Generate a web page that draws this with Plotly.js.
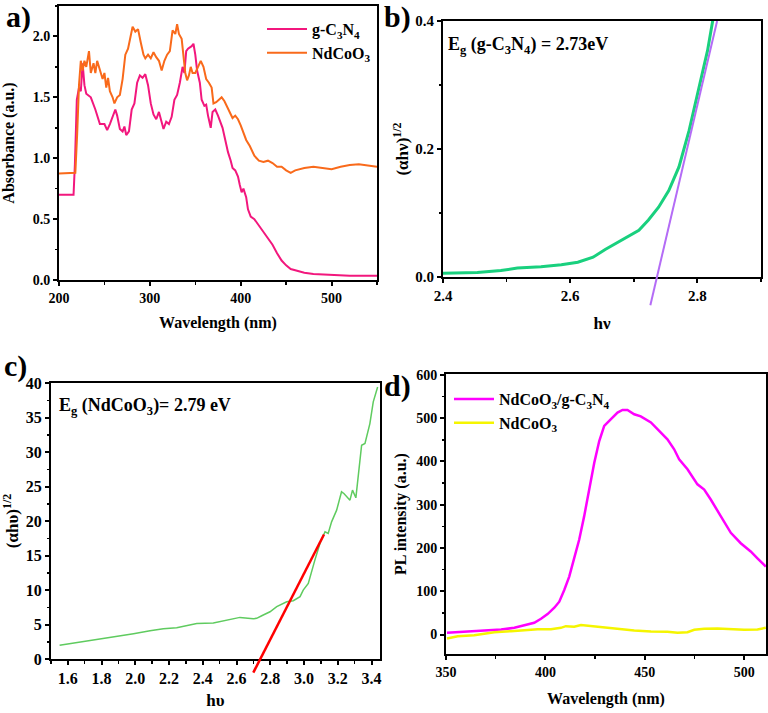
<!DOCTYPE html>
<html>
<head>
<meta charset="utf-8">
<script src="https://cdn.plot.ly/plotly-3.0.1.min.js"></script>
<style>html,body{margin:0;padding:0;background:#fff;}#chart{width:768px;height:713px;}</style>
</head>
<body>
<div id="chart"></div>
<script>
// ---------- Panel a: UV-vis absorbance ----------
const aGcnWavelength = [200,216,217.5,219.6,222,224,226,228,230,235,240,245,250,253,256,260,262,264,267,270,272,274,277,280,283,286,289,292,295,298,301,304,307,310,313,315,318,321,324,327,330,333,336,338,340,342,346,348,350,352,355,357,360,362,364,367,369,372,375,378,380,383,386,389,391,394,397,399,401,403,406,408,411,415,420,425,430,435,440,445,450,455,460,470,480,490,500,520,550];
const aGcnAbs = [0.70,0.70,0.95,1.48,1.58,1.55,1.78,1.60,1.53,1.50,1.40,1.28,1.28,1.23,1.28,1.36,1.40,1.35,1.24,1.22,1.26,1.19,1.22,1.40,1.45,1.62,1.68,1.66,1.69,1.60,1.45,1.36,1.32,1.38,1.28,1.24,1.30,1.28,1.34,1.48,1.52,1.62,1.75,1.70,1.88,1.90,1.92,1.94,1.85,1.72,1.62,1.48,1.43,1.44,1.35,1.25,1.38,1.40,1.35,1.28,1.25,1.15,1.05,0.98,0.92,0.90,0.85,0.78,0.72,0.75,0.68,0.58,0.52,0.50,0.45,0.40,0.35,0.29,0.22,0.16,0.12,0.09,0.08,0.06,0.05,0.045,0.04,0.035,0.035];
const aNcoWavelength = [200,216,218,220,222,224,226,228,230,233,235,238,240,242,245,248,250,252,254,256,259,261,264,267,270,273,276,279,281,284,287,290,293,295,298,301,304,307,310,313,316,319,322,325,328,330,332,335,337,339,341,343,345,347,350,353,356,359,362,365,368,370,373,376,379,382,385,388,391,394,397,400,403,406,410,415,420,425,430,435,440,445,450,455,460,470,480,490,500,510,520,530,540,550];
const aNcoAbs = [0.875,0.875,0.88,1.20,1.60,1.80,1.72,1.80,1.75,1.88,1.70,1.78,1.70,1.80,1.72,1.65,1.70,1.58,1.66,1.55,1.50,1.45,1.50,1.52,1.65,1.85,1.90,2.02,2.08,2.04,2.06,1.95,1.85,1.82,1.85,1.82,1.87,1.83,1.80,1.72,1.80,1.85,1.88,2.05,2.02,2.10,2.02,1.98,1.85,1.70,1.64,1.68,1.75,1.70,1.70,1.75,1.80,1.75,1.65,1.62,1.58,1.45,1.46,1.48,1.50,1.47,1.42,1.38,1.33,1.35,1.32,1.27,1.20,1.15,1.10,1.02,0.98,0.97,0.98,0.96,0.93,0.93,0.90,0.88,0.90,0.92,0.93,0.92,0.91,0.93,0.945,0.95,0.94,0.93];

// ---------- Panel b: Tauc plot g-C3N4 ----------
const bEnergy = [2.40,2.454,2.491,2.517,2.554,2.586,2.612,2.636,2.655,2.676,2.692,2.708,2.723,2.739,2.755,2.771,2.787,2.803,2.816,2.824,2.832];
const bTauc = [0.006,0.007,0.010,0.014,0.016,0.019,0.023,0.031,0.043,0.055,0.065,0.073,0.089,0.109,0.135,0.172,0.229,0.297,0.354,0.40,0.44];
const bFitEnergy = [2.726, 2.831];
const bFitTauc = [-0.044, 0.40];

// ---------- Panel c: Tauc plot NdCoO3 ----------
const cEnergy = [1.551,1.693,1.791,1.910,1.989,2.087,2.166,2.245,2.305,2.364,2.462,2.502,2.581,2.620,2.699,2.719,2.749,2.798,2.838,2.897,2.936,2.976,2.995,3.025,3.064,3.094,3.124,3.143,3.163,3.193,3.222,3.236,3.272,3.287,3.307,3.341,3.361,3.390,3.410,3.436];
const cTauc = [1.98,2.51,2.90,3.33,3.67,4.10,4.39,4.54,4.87,5.16,5.21,5.40,5.84,6.03,5.84,5.89,6.27,6.85,7.58,8.30,8.45,9.03,9.99,10.96,14.33,16.75,18.44,18.2,19.88,21.57,24.23,23.99,23.02,24.47,23.36,30.98,31.23,34.12,37.26,39.43];
const cFitEnergy = [2.699, 3.118];
const cFitTauc = [-1.98, 18.05];

// ---------- Panel d: PL spectra ----------
const dCompWavelength = [350.5,360.9,369.3,377.7,384.4,389.4,394.4,397.8,401.1,404.5,407.0,409.5,412.0,414.5,417.0,419.5,422.1,424.6,427.1,429.6,433.0,436.3,438.8,441.3,444.7,448.0,453.1,456.4,461.4,464.8,467.3,471.5,476.5,479.9,483.2,488.3,493.3,498.3,503.3,506.7,510.9];
const dCompPL = [3.9,6.2,8.5,11.6,15.5,21.7,27.1,36.4,47.2,61.9,75.9,102.9,133.9,176.5,219,273,335,397,447,482,498,513,519,519,509,504,490,474,451,428,405,382,347,335,312,273,235,211,192,176,157];
const dNcoWavelength = [350.5,355.9,364.2,369.3,374.3,382.7,389.4,396.1,402.8,407.8,410.3,414.5,417.9,422.9,427.9,436.3,444.7,453.1,461.4,466.5,471.5,474.9,479.9,486.6,493.3,500.0,506.7,510.9];
const dNcoPL = [-9.3,-3.9,-1.5,2.3,5.4,7.7,10.8,12.4,12.4,15.5,19.3,17.8,21.7,19.3,16.3,13.2,9.3,7.0,6.2,3.9,5.4,10.8,13.2,13.9,12.4,10.8,11.6,15.5];

// ---------- layout helpers ----------
const W = 768, H = 713;
const FONT = 'Liberation Serif, Times New Roman, serif';
function xd(l, r) { return [l / W, r / W]; }
function yd(t, b) { return [1 - b / H, 1 - t / H]; }
function bold(size) { return {family: FONT, size: size, color: 'black', weight: 'bold'}; }
function axis(extra) {
  return Object.assign({
    showline: true, mirror: true, linecolor: 'black', linewidth: 2,
    ticks: 'outside', ticklen: 4, tickwidth: 2, tickcolor: 'black',
    showgrid: false, zeroline: false,
    tickfont: bold(14)
  }, extra);
}
function ttl(text, standoff, size) {
  return {text: text, standoff: standoff, font: bold(size || 16)};
}
function minor(d) { return {dtick: d, ticks: 'outside', ticklen: 2.5, tickwidth: 1.5, tickcolor: 'black', showgrid: false}; }

const traces = [
  {x: aGcnWavelength, y: aGcnAbs, xaxis: 'x', yaxis: 'y', mode: 'lines', name: 'g-C<sub>3</sub>N<sub>4</sub>',
   line: {color: '#f2177d', width: 2}, legend: 'legend'},
  {x: aNcoWavelength, y: aNcoAbs, xaxis: 'x', yaxis: 'y', mode: 'lines', name: 'NdCoO<sub>3</sub>',
   line: {color: '#f96a1b', width: 2}, legend: 'legend'},
  {x: bEnergy, y: bTauc, xaxis: 'x2', yaxis: 'y2', mode: 'lines', showlegend: false,
   line: {color: '#19d07e', width: 3}},
  {x: bFitEnergy, y: bFitTauc, xaxis: 'x5', yaxis: 'y5', mode: 'lines', showlegend: false,
   line: {color: '#b46cf6', width: 2}},
  {x: cEnergy, y: cTauc, xaxis: 'x3', yaxis: 'y3', mode: 'lines', showlegend: false,
   line: {color: '#5fcb5f', width: 1.5}},
  {x: cFitEnergy, y: cFitTauc, xaxis: 'x6', yaxis: 'y6', mode: 'lines', showlegend: false,
   line: {color: '#ff0000', width: 2.5}},
  {x: dCompWavelength, y: dCompPL, xaxis: 'x4', yaxis: 'y4', mode: 'lines', name: 'NdCoO<sub>3</sub>/g-C<sub>3</sub>N<sub>4</sub>',
   line: {color: '#ff00ff', width: 2.5}, legend: 'legend2'},
  {x: dNcoWavelength, y: dNcoPL, xaxis: 'x4', yaxis: 'y4', mode: 'lines', name: 'NdCoO<sub>3</sub>',
   line: {color: '#f5f500', width: 2.5}, legend: 'legend2'}
];

// extended overlay frames so the fit lines may run below the axes
const bTop = 21, bBot = 277, bExt = 312;
const cTop = 383, cBot = 659, cExt = 680;

const layout = {
  width: W, height: H,
  margin: {l: 0, r: 0, t: 0, b: 0},
  paper_bgcolor: 'white', plot_bgcolor: 'rgba(0,0,0,0)',
  font: {family: FONT, color: 'black', size: 14},
  xaxis: axis({domain: xd(59, 377), anchor: 'y', range: [200, 550], dtick: 100, minor: minor(50),
               title: ttl('Wavelength (nm)', 12)}),
  yaxis: axis({domain: yd(6, 280), anchor: 'x', range: [0, 2.25], dtick: 0.5, tickformat: '.1f', minor: minor(0.25),
               title: ttl('Absorbance (a.u.)', 14)}),
  xaxis2: axis({domain: xd(443, 761), anchor: 'y2', range: [2.4, 2.9], dtick: 0.2, tick0: 2.4, tickformat: '.1f',
                minor: minor(0.1), tickfont: bold(15), title: ttl('hν', 14, 17)}),
  yaxis2: axis({domain: yd(bTop, bBot), anchor: 'x2', range: [0, 0.4], dtick: 0.2, tickformat: '.1f', minor: minor(0.1),
                tickfont: bold(15), title: ttl('(αhν)<sup>1/2</sup>', 2, 17)}),
  xaxis3: axis({domain: xd(51, 380), anchor: 'y3', range: [1.5, 3.45], dtick: 0.2, tick0: 1.6, tickformat: '.1f',
                minor: minor(0.1), tickfont: bold(16), title: ttl('hυ', 8, 17)}),
  yaxis3: axis({domain: yd(cTop, cBot), anchor: 'x3', range: [0, 40], dtick: 5, minor: minor(2.5),
                tickfont: bold(16), title: ttl('(αhυ)<sup>1/2</sup>', 7, 17)}),
  xaxis4: axis({domain: xd(446, 766), anchor: 'y4', range: [350, 511], dtick: 50, minor: minor(25),
                title: ttl('Wavelength (nm)', 14)}),
  yaxis4: axis({domain: yd(374, 654), anchor: 'x4', range: [-45, 602], dtick: 100, tick0: 0, minor: minor(50),
                title: ttl('PL intensity (a.u.)', 6)}),
  xaxis5: {domain: xd(443, 761), anchor: 'y5', range: [2.4, 2.9], visible: false, showgrid: false, zeroline: false},
  yaxis5: {domain: yd(bTop, bExt), anchor: 'x5', range: [-(bExt - bBot) / (bBot - bTop) * 0.4, 0.4], visible: false, showgrid: false, zeroline: false},
  xaxis6: {domain: xd(51, 380), anchor: 'y6', range: [1.5, 3.45], visible: false, showgrid: false, zeroline: false},
  yaxis6: {domain: yd(cTop, cExt), anchor: 'x6', range: [-(cExt - cBot) / (cBot - cTop) * 40, 40], visible: false, showgrid: false, zeroline: false},
  legend: {x: 262 / W, y: 1 - 12 / H, xanchor: 'left', yanchor: 'top', bgcolor: 'rgba(0,0,0,0)', itemwidth: 40,
           font: bold(16)},
  legend2: {x: 449 / W, y: 1 - 382 / H, xanchor: 'left', yanchor: 'top', bgcolor: 'rgba(0,0,0,0)', itemwidth: 40,
            font: bold(16)},
  annotations: [
    {xref: 'paper', yref: 'paper', x: 4 / W, y: 1 - 17 / H, xanchor: 'left', yanchor: 'middle', showarrow: false,
     text: 'a)', font: bold(30)},
    {xref: 'paper', yref: 'paper', x: 382 / W, y: 1 - 17 / H, xanchor: 'left', yanchor: 'middle', showarrow: false,
     text: 'b)', font: bold(30)},
    {xref: 'paper', yref: 'paper', x: 2 / W, y: 1 - 366 / H, xanchor: 'left', yanchor: 'middle', showarrow: false,
     text: 'c)', font: bold(30)},
    {xref: 'paper', yref: 'paper', x: 382 / W, y: 1 - 386 / H, xanchor: 'left', yanchor: 'middle', showarrow: false,
     text: 'd)', font: bold(30)},
    {xref: 'paper', yref: 'paper', x: 446 / W, y: 1 - 46 / H, xanchor: 'left', yanchor: 'middle', showarrow: false,
     text: 'E<sub>g</sub> (g-C<sub>3</sub>N<sub>4</sub>) = 2.73eV', font: bold(18)},
    {xref: 'paper', yref: 'paper', x: 57 / W, y: 1 - 407 / H, xanchor: 'left', yanchor: 'middle', showarrow: false,
     text: 'E<sub>g</sub> (NdCoO<sub>3</sub>)= 2.79 eV', font: bold(18)}
  ]
};

Plotly.newPlot('chart', traces, layout, {displayModeBar: false, staticPlot: true});
</script>
</body>
</html>
